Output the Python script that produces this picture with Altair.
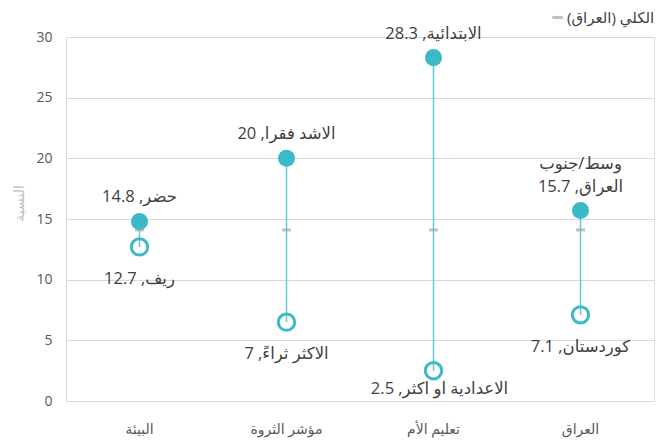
import altair as alt
import pandas as pd

categories = ["البيئة", "مؤشر الثروة", "تعليم الأم", "العراق"]
high_values = [14.8, 20.0, 28.3, 15.7]
low_values = [12.7, 6.5, 2.5, 7.1]
high_names = ["حضر", "الاشد فقرا", "الابتدائية", "وسط/جنوب\nالعراق"]
low_names = ["ريف", "الاكثر ثراءً", "الاعدادية او اكثر", "كوردستان"]
high_shown = ["14.8", "20", "28.3", "15.7"]
low_shown = ["12.7", "7", "2.5", "7.1"]
total_value = 14.1
total_name = "الكلي (العراق)"
y_ticks = [0, 5, 10, 15, 20, 25, 30]

RLE, PDF = "\u202B", "\u202C"


def rtl(name, val):
    lines = (name + ", " + val).split("\n")
    return "\n".join(RLE + ln + PDF for ln in lines)


df = pd.DataFrame({
    "cat": categories,
    "high": high_values,
    "low": low_values,
    "total": [total_value] * len(categories),
    "series": [RLE + total_name + PDF] * len(categories),
    "high_label": [rtl(n, v) for n, v in zip(high_names, high_shown)],
    "low_label": [rtl(n, v) for n, v in zip(low_names, low_shown)],
})

FONT = "'Open Sans', 'DejaVu Sans', sans-serif"
TEAL = "#3BB9C7"
LINE = "#62C8D2"
GRAY = "#A6A6A6"

x = alt.X("cat:N", sort=categories, title=None,
          scale=alt.Scale(paddingInner=0, paddingOuter=0),
          axis=alt.Axis(labelAngle=0, labelColor="#595959", labelFontSize=14,
                        labelPadding=21, ticks=False, domain=False, labelFont=FONT))
y_scale = alt.Scale(domain=[0, 30], nice=False)
y_axis = alt.Axis(values=y_ticks, title="النسبة", titleColor="#BFBFBF",
                  titleFontSize=14, titleFontWeight="normal", titleFont=FONT,
                  titleX=-47, titleY=166, titleBaseline="middle",
                  labelColor="#595959", labelFontSize=14, labelFont=FONT,
                  labelPadding=14, ticks=False, domain=False,
                  gridColor="#D9D9D9", gridWidth=1)

base = alt.Chart(df)

rule = base.mark_rule(color=LINE, strokeWidth=1.5).encode(
    x=x, y=alt.Y("low:Q", scale=y_scale, axis=y_axis), y2="high:Q")

tick = base.mark_tick(thickness=3, size=9).encode(
    x=x, y=alt.Y("total:Q", scale=y_scale),
    color=alt.Color("series:N", scale=alt.Scale(range=[GRAY]),
                    legend=alt.Legend(title=None, orient="none", legendX=484, legendY=-27,
                                      symbolType="M-1,-0.3H1V0.3H-1Z", symbolSize=110,
                                      symbolFillColor=GRAY, symbolStrokeWidth=0,
                                      labelFontSize=15, labelColor="#404040",
                                      labelFont=FONT, labelOffset=2, labelLimit=200)))

hi_pt = base.mark_point(filled=True, shape="circle", size=290, color=TEAL, opacity=1).encode(
    x=x, y=alt.Y("high:Q", scale=y_scale))

lo_pt = base.mark_point(filled=False, shape="circle", size=270, color=TEAL,
                        strokeWidth=3, opacity=1).encode(
    x=x, y=alt.Y("low:Q", scale=y_scale))

hi_txt = base.mark_text(font=FONT, fontSize=16.5, color="#404040", baseline="bottom",
                        dy=-16, lineBreak="\n", lineHeight=23).transform_filter(
    alt.datum.cat != "العراق").encode(
    x=x, y=alt.Y("high:Q", scale=y_scale), text="high_label:N")

hi_txt2 = base.mark_text(font=FONT, fontSize=16.5, color="#404040", baseline="bottom",
                         dy=-39, lineBreak="\n", lineHeight=23).transform_filter(
    alt.datum.cat == "العراق").encode(
    x=x, y=alt.Y("high:Q", scale=y_scale), text="high_label:N")

lo_txt = base.mark_text(font=FONT, fontSize=16.5, color="#404040", baseline="middle",
                        dy=32).transform_filter(
    alt.datum.cat != "تعليم الأم").encode(
    x=x, y=alt.Y("low:Q", scale=y_scale), text="low_label:N")

lo_txt2 = base.mark_text(font=FONT, fontSize=16.5, color="#404040", baseline="middle",
                         dy=18, dx=6).transform_filter(
    alt.datum.cat == "تعليم الأم").encode(
    x=x, y=alt.Y("low:Q", scale=y_scale), text="low_label:N")

chart = alt.layer(rule, tick, hi_pt, lo_pt, hi_txt, hi_txt2, lo_txt, lo_txt2).properties(
    width=588, height=364,
    autosize=alt.AutoSizeParams(type="none"),
    padding={"left": 58, "top": 29, "right": 6, "bottom": 38},
).configure_view(stroke=None).configure(background="white")

chart.save("out.html", embed_options={"renderer": "svg", "actions": False})
